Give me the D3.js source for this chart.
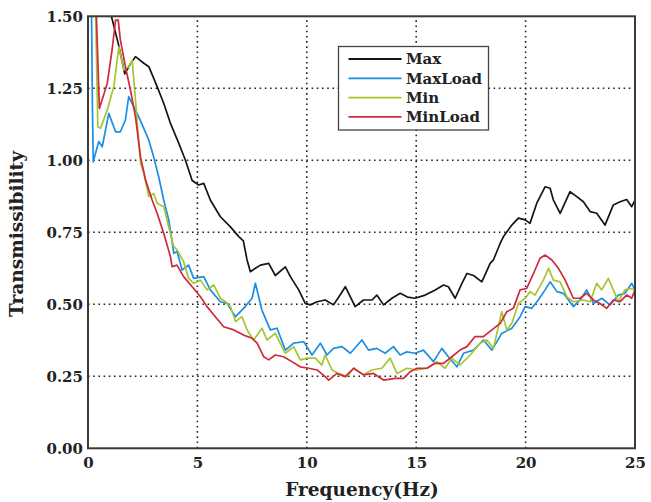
<!DOCTYPE html>
<html><head><meta charset="utf-8">
<script src="https://cdn.jsdelivr.net/npm/d3@7"></script>
<style>
html,body{margin:0;padding:0;background:#fff;}
svg{display:block;}
text{font-family:"DejaVu Serif",serif;font-weight:bold;fill:#222;}
</style></head>
<body>
<svg id="chart" width="651" height="502"></svg>
<script>
const seriesNames = ["Max","MaxLoad","Min","MinLoad"];
const seriesColors = ["#151515","#1b8fe3","#a6c531","#cf2a3c"];
const xTicks = [0,5,10,15,20,25];
const yTicks = [0,0.25,0.5,0.75,1.0,1.25,1.5];

const maxFreq = [0.3,0.8,1.07,1.4,1.68,1.9,2.17,2.55,2.78,3.16,3.46,3.77,4.15,4.45,4.76,5.06,5.29,5.59,6.05,6.51,6.89,7.1,7.27,7.42,7.65,7.88,8.26,8.56,9.02,9.25,9.63,9.93,10.16,10.47,10.84,11.22,11.5,11.76,12.21,12.59,12.98,13.2,13.51,13.89,14.27,14.6,14.95,15.41,15.87,16.25,16.47,16.78,17.09,17.32,17.62,18.0,18.38,18.53,18.84,18.99,19.37,19.67,19.98,20.2,20.51,20.89,21.12,21.27,21.58,22.03,22.34,22.64,22.95,23.25,23.63,24.01,24.32,24.62,24.85,25.0];
const maxVal = [1.75,1.6,1.5,1.40,1.30,1.33,1.36,1.337,1.325,1.256,1.198,1.128,1.059,1.001,0.93,0.914,0.92,0.862,0.804,0.769,0.735,0.72,0.654,0.613,0.625,0.636,0.642,0.60,0.63,0.596,0.55,0.503,0.498,0.509,0.515,0.498,0.53,0.561,0.492,0.515,0.515,0.532,0.498,0.521,0.538,0.525,0.521,0.532,0.55,0.567,0.561,0.521,0.573,0.607,0.60,0.578,0.642,0.654,0.712,0.735,0.775,0.799,0.793,0.781,0.851,0.908,0.903,0.862,0.816,0.891,0.874,0.856,0.822,0.816,0.775,0.845,0.856,0.864,0.839,0.862];

const maxLoadFreq = [0.15,0.2,0.24,0.49,0.65,0.95,1.26,1.48,1.71,1.86,2.09,2.32,2.55,2.78,3.0,3.23,3.46,3.69,3.84,3.92,4.07,4.3,4.6,4.83,5.29,5.59,6.05,6.36,6.74,7.11,7.5,7.65,7.95,8.33,8.64,9.02,9.4,9.86,10.24,10.62,10.92,11.22,11.61,11.99,12.52,12.82,13.2,13.58,13.96,14.27,14.57,14.95,15.33,15.79,16.17,16.47,16.86,17.16,17.62,18.07,18.46,18.91,19.37,19.75,19.98,20.28,20.58,20.89,21.12,21.43,21.73,22.18,22.49,22.79,23.1,23.48,23.86,24.24,24.54,24.85,25.0];
const maxLoadVal = [1.6,1.2,0.995,1.065,1.047,1.163,1.099,1.099,1.14,1.221,1.186,1.151,1.111,1.07,1.012,0.943,0.862,0.793,0.72,0.677,0.683,0.619,0.636,0.59,0.596,0.55,0.509,0.503,0.457,0.486,0.521,0.573,0.48,0.411,0.417,0.341,0.365,0.37,0.324,0.365,0.324,0.347,0.353,0.33,0.376,0.341,0.347,0.33,0.353,0.324,0.335,0.33,0.341,0.301,0.347,0.318,0.283,0.33,0.341,0.376,0.341,0.399,0.417,0.457,0.492,0.486,0.515,0.55,0.578,0.544,0.538,0.492,0.515,0.55,0.503,0.521,0.498,0.532,0.538,0.573,0.55];

const minFreq = [0.3,0.45,0.57,0.88,1.18,1.41,1.64,1.86,2.02,2.17,2.4,2.55,2.78,3.0,3.16,3.46,3.69,3.92,4.07,4.37,4.6,4.83,5.14,5.44,5.75,6.05,6.28,6.51,6.74,7.04,7.27,7.57,7.95,8.18,8.56,9.02,9.4,9.7,10.01,10.39,10.69,10.84,11.15,11.45,11.84,12.14,12.59,12.98,13.43,13.81,14.12,14.58,15.03,15.49,15.94,16.32,16.63,17.0,17.47,17.92,18.23,18.53,18.91,19.14,19.37,19.67,19.98,20.21,20.43,20.81,21.05,21.27,21.58,21.89,22.18,22.65,22.95,23.25,23.48,23.78,24.01,24.24,24.54,24.77,25.0];
const minVal = [1.7,1.117,1.111,1.175,1.256,1.394,1.314,1.325,1.348,1.209,0.99,0.955,0.874,0.885,0.851,0.839,0.769,0.70,0.689,0.648,0.59,0.573,0.584,0.55,0.567,0.521,0.509,0.492,0.44,0.457,0.411,0.376,0.417,0.376,0.399,0.33,0.353,0.307,0.313,0.313,0.289,0.324,0.272,0.26,0.249,0.278,0.255,0.272,0.278,0.313,0.26,0.278,0.272,0.278,0.301,0.278,0.313,0.289,0.324,0.365,0.376,0.347,0.474,0.411,0.434,0.503,0.521,0.544,0.532,0.584,0.625,0.584,0.578,0.526,0.509,0.515,0.509,0.573,0.55,0.59,0.55,0.509,0.55,0.555,0.55];

const minLoadFreq = [0.3,0.52,0.88,1.1,1.26,1.38,1.48,1.71,1.94,2.17,2.4,2.63,2.93,3.16,3.46,3.77,3.84,4.07,4.37,4.76,5.14,5.44,5.82,6.2,6.66,7.11,7.5,7.73,8.03,8.26,8.56,8.94,9.32,9.7,10.08,10.47,10.84,11.0,11.38,11.76,12.14,12.59,13.05,13.51,14.04,14.42,14.73,15.03,15.49,15.87,16.25,16.63,17.0,17.32,17.69,18.07,18.46,18.84,19.14,19.44,19.75,20.05,20.36,20.66,20.89,21.2,21.5,21.81,22.18,22.49,22.79,23.1,23.4,23.71,24.01,24.32,24.62,24.85,25.0];
const minLoadVal = [1.7,1.18,1.267,1.383,1.487,1.487,1.418,1.325,1.244,1.151,1.012,0.932,0.862,0.816,0.747,0.665,0.631,0.636,0.596,0.561,0.526,0.492,0.457,0.422,0.411,0.393,0.382,0.365,0.318,0.307,0.324,0.318,0.301,0.283,0.278,0.272,0.249,0.237,0.26,0.249,0.278,0.255,0.26,0.237,0.243,0.243,0.266,0.278,0.278,0.295,0.295,0.318,0.341,0.353,0.388,0.388,0.411,0.434,0.474,0.486,0.55,0.555,0.607,0.66,0.671,0.654,0.625,0.584,0.521,0.521,0.538,0.515,0.503,0.486,0.515,0.509,0.532,0.521,0.55];

const seriesFreqs = [maxFreq, maxLoadFreq, minFreq, minLoadFreq];
const seriesVals = [maxVal, maxLoadVal, minVal, minLoadVal];

const svg = d3.select("#chart");
const x = d3.scaleLinear().domain([0,25]).range([88,635]);
const y = d3.scaleLinear().domain([0,1.5]).range([448.3,16.3]);

svg.append("clipPath").attr("id","plotclip").append("rect")
  .attr("x",x(0)).attr("y",y(1.5)).attr("width",x(25)-x(0)).attr("height",y(0)-y(1.5));

// grid
const grid = svg.append("g");
grid.selectAll("line.vx").data(xTicks.filter(d=>d>0&&d<25)).join("line")
  .attr("x1",d=>x(d)).attr("x2",d=>x(d)).attr("y1",y(0)).attr("y2",y(1.5))
  .attr("stroke","#222").attr("stroke-width",1.6).attr("stroke-dasharray","1.6,3.6");
grid.selectAll("line.hy").data(yTicks.filter(d=>d>0&&d<1.5)).join("line")
  .attr("y1",d=>y(d)).attr("y2",d=>y(d)).attr("x1",x(0)).attr("x2",x(25))
  .attr("stroke","#222").attr("stroke-width",1.6).attr("stroke-dasharray","1.6,3.6");

// lines
const line = d3.line().x(d=>x(d[0])).y(d=>y(d[1])).curve(d3.curveLinear);
const lg = svg.append("g").attr("clip-path","url(#plotclip)");
seriesNames.forEach((name,i)=>{
  const pts = seriesFreqs[i].map((f,j)=>[f, seriesVals[i][j]]);
  lg.append("path").datum(pts).attr("d",line)
    .attr("fill","none").attr("stroke",seriesColors[i]).attr("stroke-width",1.7)
    .attr("stroke-linejoin","round");
});

// frame
svg.append("rect").attr("x",x(0)).attr("y",y(1.5)).attr("width",x(25)-x(0)).attr("height",y(0)-y(1.5))
  .attr("fill","none").attr("stroke","#3a3a3a").attr("stroke-width",2);

// axes labels
const xAxis = d3.axisBottom(x).tickValues(xTicks).tickSize(0).tickPadding(9).tickFormat(d3.format("d"));
const gx = svg.append("g").attr("transform",`translate(0,${y(0)})`).call(xAxis);
gx.select(".domain").remove();
gx.selectAll("text").attr("font-size",15).attr("font-family","DejaVu Serif").attr("font-weight","bold").attr("fill","#222");

const yAxis = d3.axisLeft(y).tickValues(yTicks).tickSize(0).tickPadding(5).tickFormat(d3.format(".2f"));
const gy = svg.append("g").attr("transform",`translate(${x(0)},0)`).call(yAxis);
gy.select(".domain").remove();
gy.selectAll("text").attr("font-size",15).attr("font-family","DejaVu Serif").attr("font-weight","bold").attr("fill","#222");

svg.append("text").attr("x",362).attr("y",496).attr("text-anchor","middle")
  .attr("font-size",18.5).text("Frequency(Hz)");
svg.append("text").attr("transform","translate(23,234) rotate(-90)").attr("text-anchor","middle")
  .attr("font-size",18.5).text("Transmissibility");

// legend
const leg = svg.append("g");
leg.append("rect").attr("x",338.5).attr("y",46.5).attr("width",150).attr("height",83.5)
  .attr("fill","#fff").attr("stroke","#444").attr("stroke-width",1.3);
seriesNames.forEach((name,i)=>{
  const ly = 59 + i*19.3;
  leg.append("line").attr("x1",348.5).attr("x2",401.5).attr("y1",ly).attr("y2",ly)
    .attr("stroke",seriesColors[i]).attr("stroke-width",1.8);
  leg.append("text").attr("x",406).attr("y",ly).attr("dy","0.35em")
    .attr("font-size",15).text(name);
});
</script>
</body></html>
